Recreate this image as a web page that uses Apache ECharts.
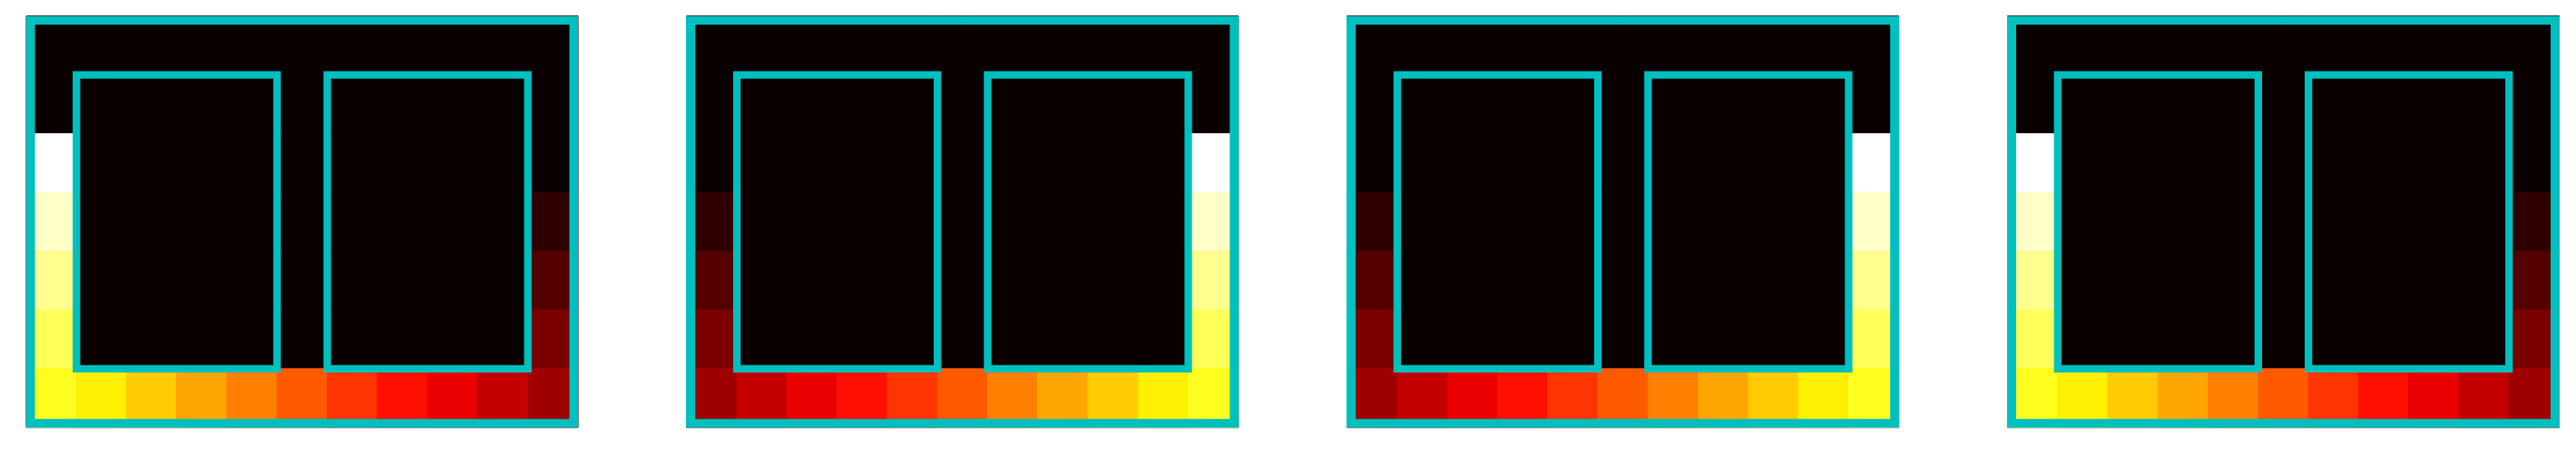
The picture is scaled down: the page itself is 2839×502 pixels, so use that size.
<!DOCTYPE html>
<html>
<head>
<meta charset="utf-8">
<script src="https://cdn.jsdelivr.net/npm/echarts@6/dist/echarts.min.js"></script>
<style>
  html, body { margin: 0; padding: 0; background: #fff; }
  #main { width: 2839px; height: 502px; }
</style>
</head>
<body>
<div id="main"></div>
<script>
// grid cells, row 0 at top
const cols = ['0', '1', '2', '3', '4', '5', '6', '7', '8', '9', '10'];
const rows = ['0', '1', '2', '3', '4', '5', '6'];

const panel1 = [
  [0, 0, 0, 0, 0, 0, 0, 0, 0, 0, 0],
  [0, 0, 0, 0, 0, 0, 0, 0, 0, 0, 0],
  [18, 0, 0, 0, 0, 0, 0, 0, 0, 0, 0],
  [17, 0, 0, 0, 0, 0, 0, 0, 0, 0, 1],
  [16, 0, 0, 0, 0, 0, 0, 0, 0, 0, 2],
  [15, 0, 0, 0, 0, 0, 0, 0, 0, 0, 3],
  [14, 13, 12, 11, 10, 9, 8, 7, 6, 5, 4],
];
const panel2 = [
  [0, 0, 0, 0, 0, 0, 0, 0, 0, 0, 0],
  [0, 0, 0, 0, 0, 0, 0, 0, 0, 0, 0],
  [0, 0, 0, 0, 0, 0, 0, 0, 0, 0, 18],
  [1, 0, 0, 0, 0, 0, 0, 0, 0, 0, 17],
  [2, 0, 0, 0, 0, 0, 0, 0, 0, 0, 16],
  [3, 0, 0, 0, 0, 0, 0, 0, 0, 0, 15],
  [4, 5, 6, 7, 8, 9, 10, 11, 12, 13, 14],
];
const panel3 = [
  [0, 0, 0, 0, 0, 0, 0, 0, 0, 0, 0],
  [0, 0, 0, 0, 0, 0, 0, 0, 0, 0, 0],
  [0, 0, 0, 0, 0, 0, 0, 0, 0, 0, 18],
  [1, 0, 0, 0, 0, 0, 0, 0, 0, 0, 17],
  [2, 0, 0, 0, 0, 0, 0, 0, 0, 0, 16],
  [3, 0, 0, 0, 0, 0, 0, 0, 0, 0, 15],
  [4, 5, 6, 7, 8, 9, 10, 11, 12, 13, 14],
];
const panel4 = [
  [0, 0, 0, 0, 0, 0, 0, 0, 0, 0, 0],
  [0, 0, 0, 0, 0, 0, 0, 0, 0, 0, 0],
  [18, 0, 0, 0, 0, 0, 0, 0, 0, 0, 0],
  [17, 0, 0, 0, 0, 0, 0, 0, 0, 0, 1],
  [16, 0, 0, 0, 0, 0, 0, 0, 0, 0, 2],
  [15, 0, 0, 0, 0, 0, 0, 0, 0, 0, 3],
  [14, 13, 12, 11, 10, 9, 8, 7, 6, 5, 4],
];
const panels = [panel1, panel2, panel3, panel4];

const valueMax = 18;

// outlined blocks, inclusive cell ranges [colStart, rowStart, colEnd, rowEnd]
const frameBox = [[0, 0, 10, 6]];
const innerBoxes = [[1, 1, 4, 5], [6, 1, 9, 5]];

const CYAN = '#00bfbf';

// matplotlib "hot"
function hot(t) {
  const r = t < 0.365079 ? 0.0416 + (t / 0.365079) * 0.9584 : 1;
  const g = t < 0.365079 ? 0 : t < 0.746032 ? (t - 0.365079) / 0.380953 : 1;
  const b = t < 0.746032 ? 0 : (t - 0.746032) / 0.253968;
  const c = v => Math.round(Math.min(1, Math.max(0, v)) * 255);
  return 'rgb(' + c(r) + ',' + c(g) + ',' + c(b) + ')';
}
const hotColors = [];
for (let k = 0; k <= valueMax; k++) hotColors.push(hot(k / valueMax));

function toCells(m) {
  const out = [];
  m.forEach((row, r) => row.forEach((v, c) => out.push([c, r, v])));
  return out;
}

// one cell, filled and stroked in its mapped colour so neighbours join without seams
function renderCell(params, api) {
  const p = api.coord([api.value(0), api.value(1)]);
  const s = api.size([1, 1]);
  const color = api.visual('color');
  return {
    type: 'rect',
    shape: { x: p[0] - s[0] / 2, y: p[1] - s[1] / 2, width: s[0], height: s[1] },
    style: { fill: color, stroke: color, lineWidth: 1 },
  };
}

function boxRenderer(lineWidth) {
  return (params, api) => {
    const a = api.coord([api.value(0), api.value(1)]);
    const b = api.coord([api.value(2), api.value(3)]);
    const s = api.size([1, 1]);
    return {
      type: 'rect',
      shape: {
        x: a[0] - s[0] / 2,
        y: a[1] - s[1] / 2,
        width: b[0] - a[0] + s[0],
        height: b[1] - a[1] + s[1],
      },
      style: { fill: 'none', stroke: CYAN, lineWidth },
    };
  };
}

const grid = [];
const xAxis = [];
const yAxis = [];
const series = [];
const step = 727.83;

panels.forEach((m, i) => {
  grid.push({
    left: 29 + i * step, top: 17.7, width: 608, height: 454,
    show: true, borderColor: '#000', borderWidth: 1, backgroundColor: '#0b0000',
  });
  xAxis.push({
    type: 'category', gridIndex: i, data: cols, show: false,
  });
  yAxis.push({
    type: 'category', gridIndex: i, data: rows, inverse: true, show: false,
  });
  series.push({
    type: 'custom', xAxisIndex: i, yAxisIndex: i,
    clip: true, z: 2,
    encode: { x: 0, y: 1 },
    data: toCells(m),
    renderItem: renderCell,
    silent: true,
  });
});

panels.forEach((m, i) => {
  series.push({
    type: 'custom', xAxisIndex: i, yAxisIndex: i,
    clip: true, z: 5,
    encode: { x: [0, 2], y: [1, 3] },
    data: frameBox,
    renderItem: boxRenderer(19),
    silent: true,
  });
  series.push({
    type: 'custom', xAxisIndex: i, yAxisIndex: i,
    z: 5,
    encode: { x: [0, 2], y: [1, 3] },
    data: innerBoxes,
    renderItem: boxRenderer(8.3),
    silent: true,
  });
});

const chart = echarts.init(document.getElementById('main'));
chart.setOption({
  animation: false,
  backgroundColor: '#fff',
  grid,
  xAxis,
  yAxis,
  visualMap: {
    type: 'continuous',
    show: false,
    min: 0,
    max: valueMax,
    dimension: 2,
    seriesIndex: [0, 1, 2, 3],
    inRange: { color: hotColors },
  },
  series,
});
</script>
</body>
</html>
